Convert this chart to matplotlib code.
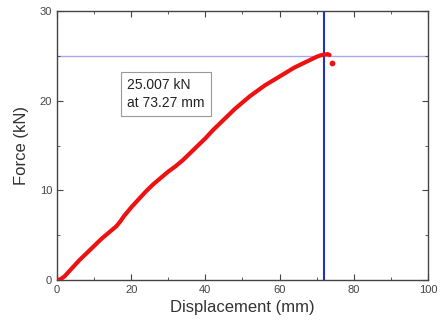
import matplotlib
matplotlib.use('Agg')
from matplotlib import pyplot as plt
from matplotlib.ticker import MultipleLocator

plt.rcParams['font.family'] = ['Liberation Sans', 'DejaVu Sans']

# load-displacement readings taken off the chart
displacement = [0, 1, 2, 4, 6, 8, 10, 12, 14, 16, 17, 18, 20, 22, 24, 26, 28, 30,
                32, 34, 36, 38, 40, 42, 44, 46, 48, 50, 52, 54, 56, 58, 60, 62,
                64, 66, 68, 70, 71, 72, 73, 73.5]
force = [0, 0.1, 0.4, 1.3, 2.2, 3.0, 3.8, 4.6, 5.3, 6.0, 6.5, 7.1, 8.1, 9.0,
         9.9, 10.7, 11.4, 12.1, 12.7, 13.4, 14.2, 15.0, 15.8, 16.7, 17.5, 18.3,
         19.1, 19.8, 20.5, 21.1, 21.7, 22.2, 22.7, 23.2, 23.7, 24.1, 24.5, 24.9,
         25.05, 25.15, 25.2, 25.1]
drop_disp = [74.2]
drop_force = [24.2]

peak_force = 25.007
peak_line_x = 72.0
label_text = '25.007 kN\nat 73.27 mm'

fig = plt.figure(figsize=(4.42, 3.26), dpi=100)
ax = fig.add_axes([0.129, 0.141, 0.839, 0.825])

ax.plot(displacement, force, color='#ee1111', linewidth=3.0,
        solid_capstyle='round', solid_joinstyle='round', zorder=3)
ax.scatter(drop_disp, drop_force, color='#ee1111', s=10, zorder=3)

ax.axhline(peak_force, color='#a8a8f0', linewidth=1.0, zorder=1)
ax.axvline(peak_line_x, color='#2233bb', linewidth=1.5, zorder=2)

ax.text(19, 22.5, label_text, fontsize=10, color='#222222', va='top', ha='left',
        linespacing=1.3,
        bbox=dict(boxstyle='square,pad=0.45', facecolor='white',
                  edgecolor='#999999', linewidth=0.8))

ax.set_xlim(0, 100)
ax.set_ylim(0, 30)
ax.xaxis.set_major_locator(MultipleLocator(20))
ax.xaxis.set_minor_locator(MultipleLocator(10))
ax.yaxis.set_major_locator(MultipleLocator(10))
ax.yaxis.set_minor_locator(MultipleLocator(5))
ax.tick_params(which='both', direction='in', top=True, right=True,
               labelsize=8, labelcolor='#444444', color='#444444')
ax.tick_params(which='major', length=4)
ax.tick_params(which='minor', length=2.5)
for sp in ax.spines.values():
    sp.set_color('#444444')
    sp.set_linewidth(1.0)

ax.set_xlabel('Displacement (mm)', fontsize=12, color='#333333', labelpad=4)
ax.set_ylabel('Force (kN)', fontsize=12, color='#333333', labelpad=8)

plt.savefig('out.png', dpi=100)
plt.close(fig)
